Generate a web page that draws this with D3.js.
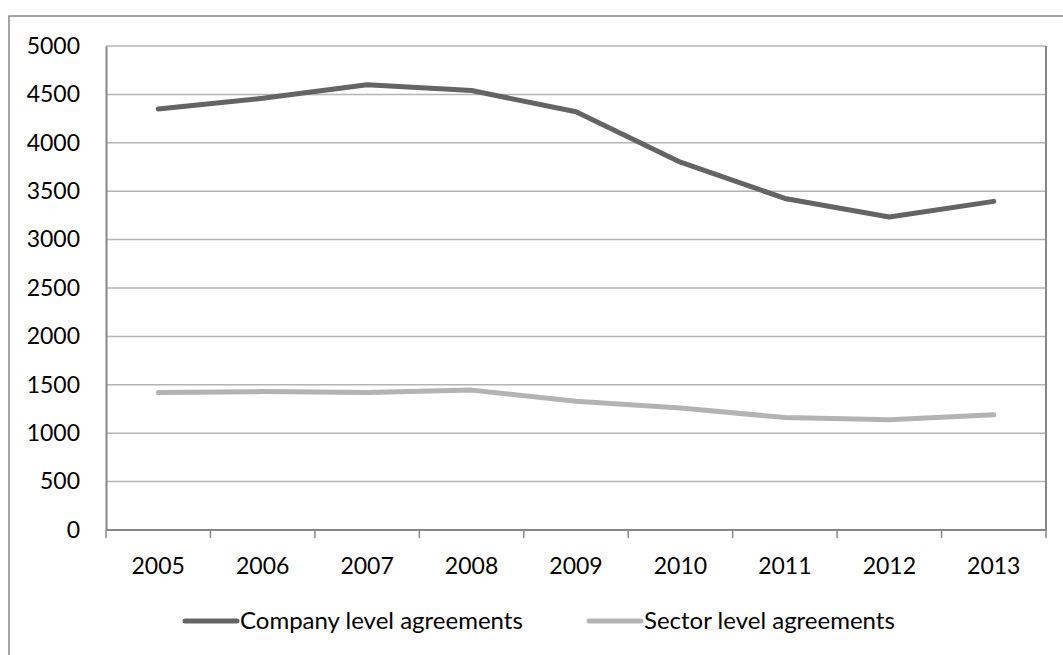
<!DOCTYPE html>
<html>
<head>
<meta charset="utf-8">
<script src="https://cdn.jsdelivr.net/npm/d3@7"></script>
<style>
  body { margin: 0; background: #fff; }
  svg { display: block; font-family: Lato, "Open Sans", sans-serif; }
  .grid line { stroke: #b4b4b4; stroke-width: 1.5; }
  .axis path, .axis line { stroke: #888; }
</style>
</head>
<body>
<svg id="chart"></svg>
<script>
'use strict'

const years   = ['2005', '2006', '2007', '2008', '2009', '2010', '2011', '2012', '2013']
const company = [4350, 4460, 4600, 4540, 4320, 3800, 3425, 3233, 3395]
const sector  = [1420, 1430, 1420, 1445, 1330, 1260, 1162, 1140, 1190]
const yTicks  = [0, 500, 1000, 1500, 2000, 2500, 3000, 3500, 4000, 4500, 5000]
const seriesNames = ['Company level agreements', 'Sector level agreements']
const seriesColors = ['#646464', '#b3b3b3']

const width = 1063, height = 655
const margin = { top: 46, right: 17, bottom: 125, left: 106 }

const svg = d3.select('#chart').attr('width', width).attr('height', height)

// outer frame, cut off at right and bottom as in the source
svg.append('rect')
  .attr('x', 9).attr('y', 16)
  .attr('width', width).attr('height', height)
  .attr('fill', 'none').attr('stroke', '#888').attr('stroke-width', 1.5)

const x = d3.scaleBand().domain(years).range([margin.left, width - margin.right])
const y = d3.scaleLinear().domain([0, 5000]).range([height - margin.bottom, margin.top])

// gridlines
svg.append('g').attr('class', 'grid')
  .selectAll('line')
  .data(yTicks.filter(d => d > 0))
  .enter().append('line')
    .attr('x1', margin.left).attr('x2', width - margin.right)
    .attr('y1', d => y(d)).attr('y2', d => y(d))

// right border of the plot
svg.append('line')
  .attr('x1', width - margin.right).attr('x2', width - margin.right)
  .attr('y1', margin.top).attr('y2', y(0))
  .attr('stroke', '#888').attr('stroke-width', 2)

// y axis
const yAxis = svg.append('g').attr('class', 'axis')
  .attr('transform', 'translate(' + margin.left + ',0)')
  .call(d3.axisLeft(y).tickValues(yTicks).tickFormat(d3.format('d')).tickSize(0).tickPadding(26))
yAxis.select('.domain').attr('stroke-width', 2)
yAxis.selectAll('text')
  .attr('font-size', 23).attr('fill', '#000')
  .attr('font-family', 'Lato, "Open Sans", sans-serif')

// x axis: ticks sit between categories
const xAxis = svg.append('g').attr('class', 'axis')
  .attr('transform', 'translate(0,' + y(0) + ')')
xAxis.append('line')
  .attr('x1', margin.left).attr('x2', width - margin.right)
  .attr('stroke', '#888').attr('stroke-width', 2)
xAxis.selectAll('.tick-mark')
  .data(years.concat(['end']))
  .enter().append('line')
    .attr('class', 'tick-mark')
    .attr('x1', (d, i) => i < years.length ? x(d) : x(years[years.length - 1]) + x.bandwidth())
    .attr('x2', (d, i) => i < years.length ? x(d) : x(years[years.length - 1]) + x.bandwidth())
    .attr('y1', 0).attr('y2', 8)
    .attr('stroke', '#9aa4b0').attr('stroke-width', 1.5)
xAxis.selectAll('text')
  .data(years)
  .enter().append('text')
    .attr('x', d => x(d) + x.bandwidth() / 2)
    .attr('y', 44)
    .attr('text-anchor', 'middle')
    .attr('font-size', 23)
    .text(d => d)

// lines
const line = d3.line()
  .x((d, i) => x(years[i]) + x.bandwidth() / 2)
  .y(d => y(d))

;[company, sector].forEach((values, i) => {
  svg.append('path')
    .datum(values)
    .attr('d', line)
    .attr('fill', 'none')
    .attr('stroke', seriesColors[i])
    .attr('stroke-width', 5)
    .attr('stroke-linecap', 'round')
    .attr('stroke-linejoin', 'round')
})

// legend
const legendX = [185, 589]
const legend = svg.append('g').selectAll('g')
  .data(seriesNames)
  .enter().append('g')
    .attr('transform', (d, i) => 'translate(' + legendX[i] + ',621)')
legend.append('line')
  .attr('x1', 0).attr('x2', 52)
  .attr('stroke', (d, i) => seriesColors[i])
  .attr('stroke-width', 5)
  .attr('stroke-linecap', 'round')
legend.append('text')
  .attr('x', 55).attr('y', 8)
  .attr('font-size', 24)
  .text(d => d)
</script>
</body>
</html>
